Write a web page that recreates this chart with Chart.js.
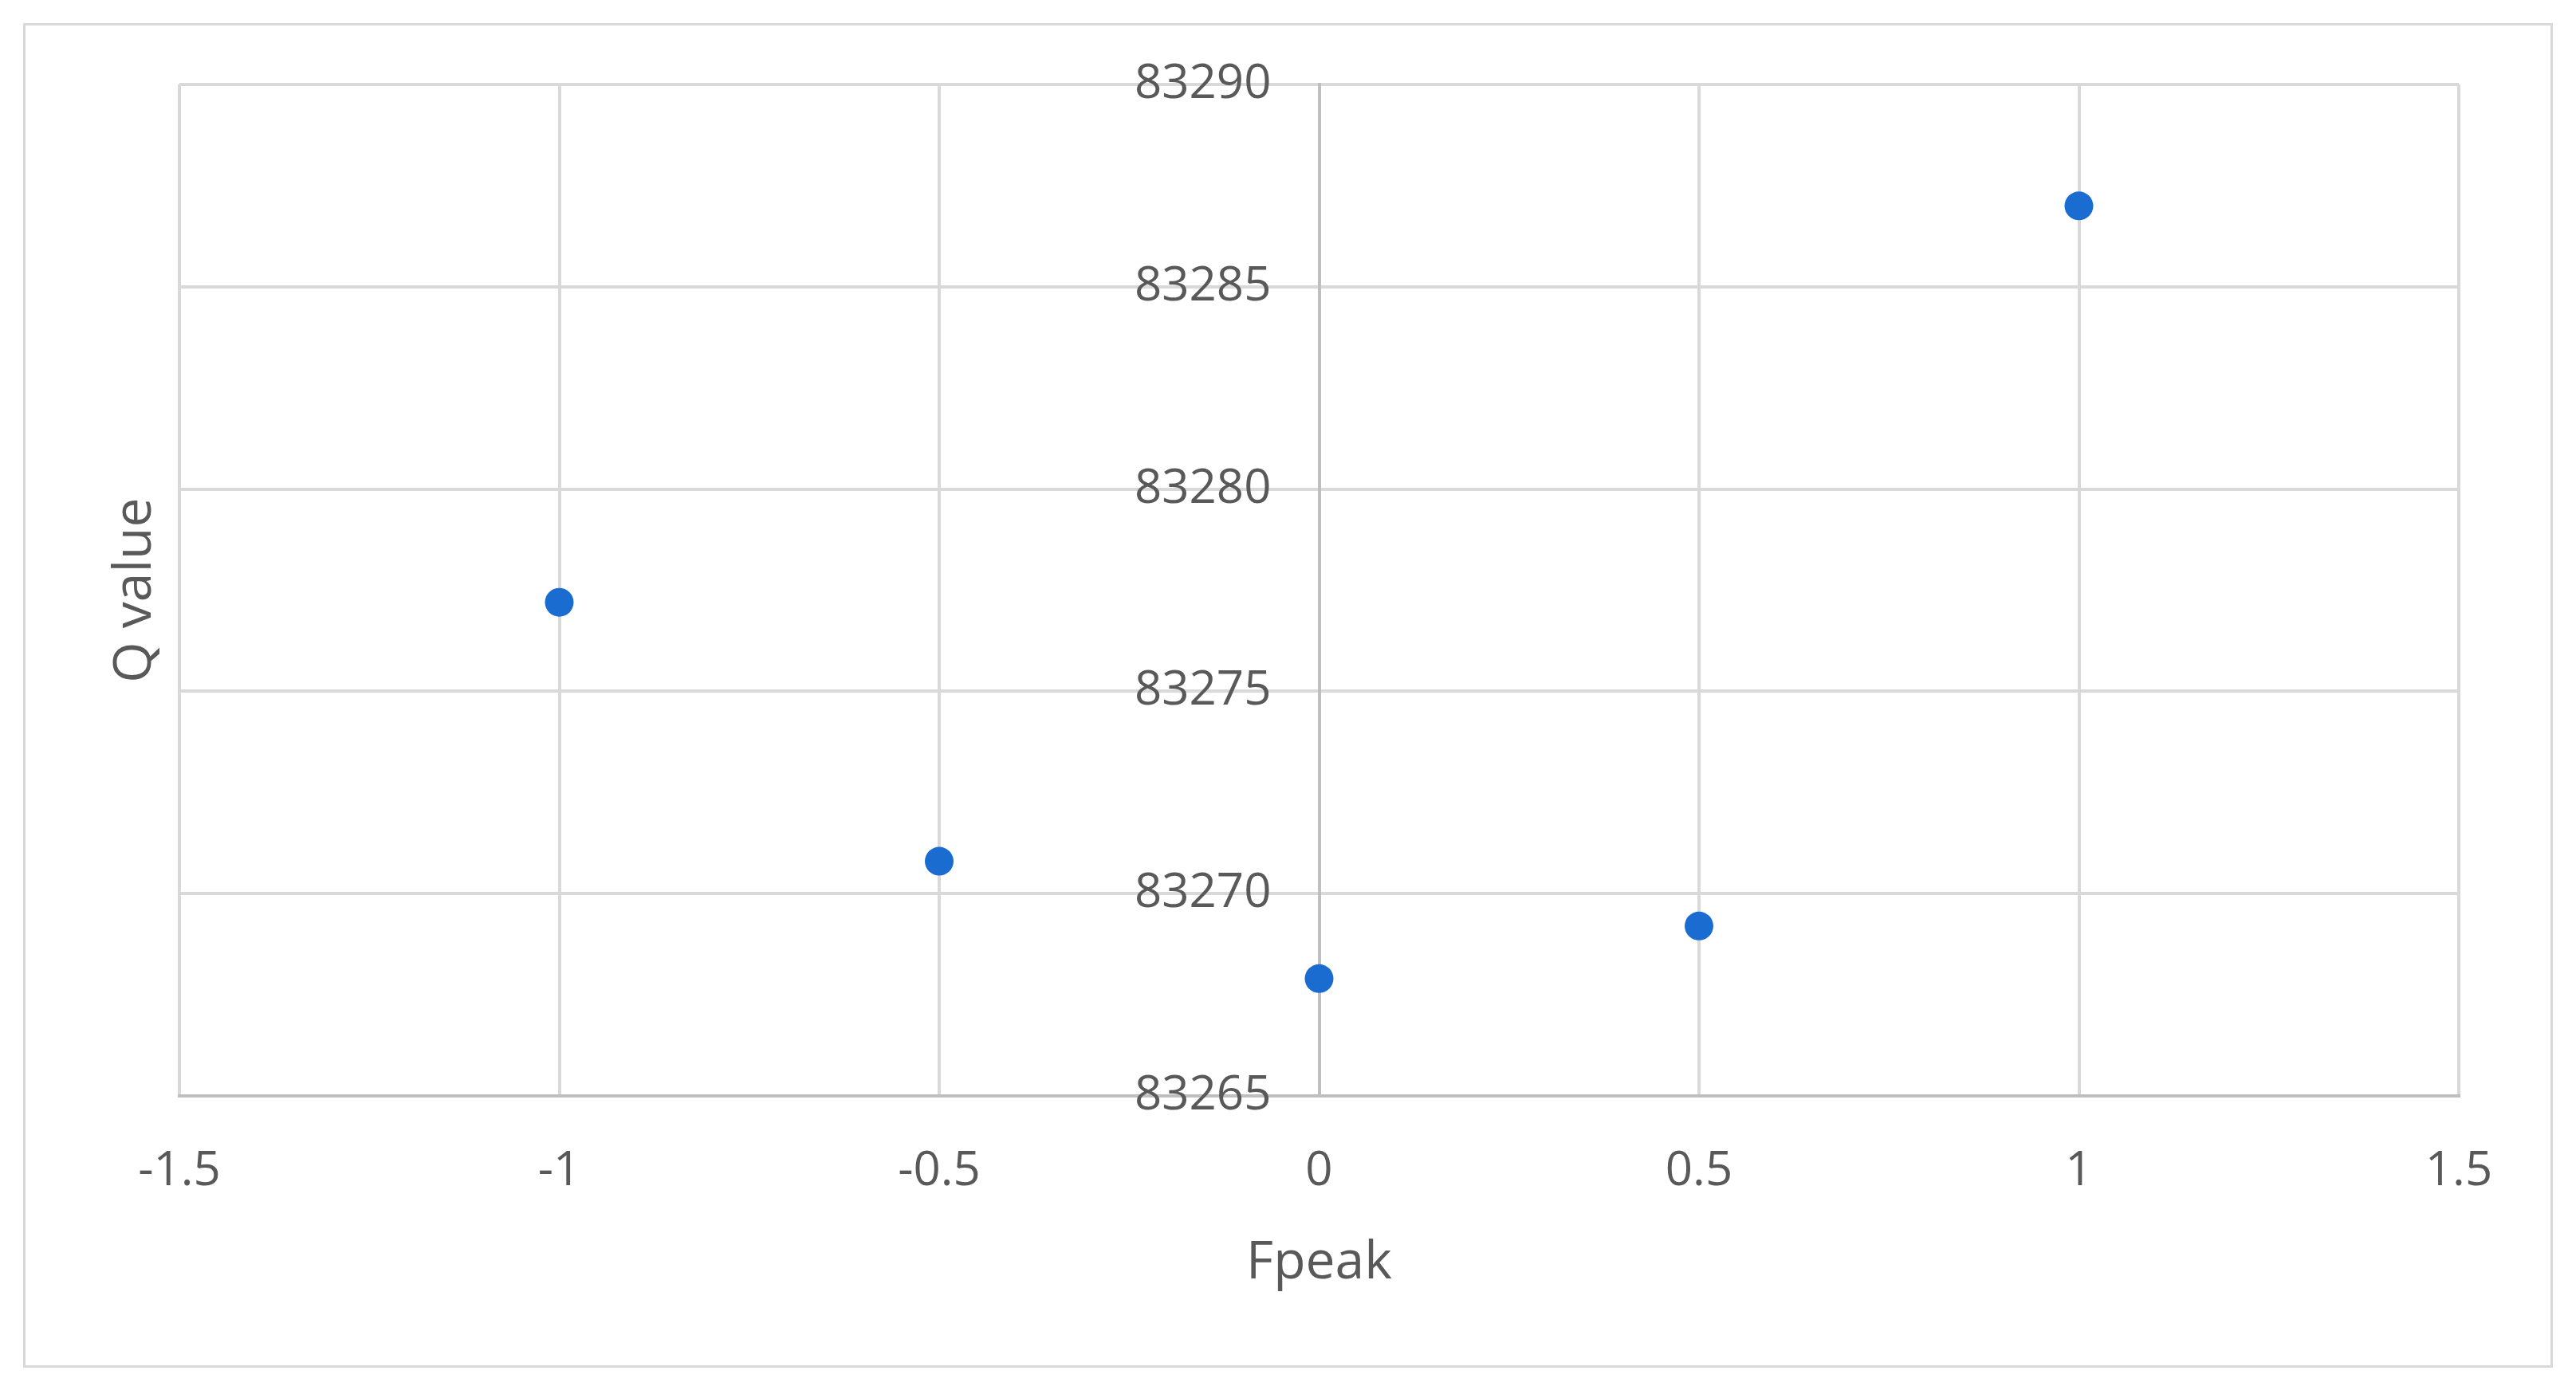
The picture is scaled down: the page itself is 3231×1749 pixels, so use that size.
<!DOCTYPE html>
<html>
<head>
<meta charset="utf-8">
<script src="https://cdn.jsdelivr.net/npm/chart.js@4.4.1/dist/chart.umd.min.js"></script>
<style>
  html, body { margin: 0; padding: 0; background: #fff; }
  #frame { position: absolute; left: 29px; top: 29px; width: 3173px; height: 1687px;
           border: 3px solid #d9d9d9; box-sizing: border-box; }
  #wrap  { position: absolute; left: 0; top: 0; width: 3231px; height: 1749px; }
</style>
</head>
<body>
<div id="frame"></div>
<div id="wrap"><canvas id="qChart"></canvas></div>
<script>
// data
const fpeak  = [-1, -0.5, 0, 0.5, 1];
const qValue = [83277.2, 83270.8, 83267.9, 83269.2, 83287.0];

const xTicks = [-1.5, -1, -0.5, 0, 0.5, 1, 1.5];
const yTicks = [83265, 83270, 83275, 83280, 83285, 83290];

const textGray = '#595959';
const gridGray = '#d9d9d9';
const axisGray = '#bfbfbf';

Chart.defaults.font.family = "'Open Sans', sans-serif";
Chart.defaults.color = textGray;

const ctx = document.getElementById('qChart').getContext('2d');
new Chart(ctx, {
    type: 'scatter',
    data: {
        datasets: [{
            data: fpeak.map((x, i) => ({ x: x, y: qValue[i] })),
            backgroundColor: '#1a6cd0',
            borderWidth: 0,
            pointRadius: 18,
            pointHoverRadius: 18
        }]
    },
    options: {
        responsive: true,
        maintainAspectRatio: false,
        animation: false,
        layout: { padding: { top: 106, right: 147, left: 0, bottom: 0 } },
        plugins: { legend: { display: false }, tooltip: { enabled: false } },
        scales: {
            x: {
                type: 'linear',
                position: 'bottom',
                min: xTicks[0],
                max: xTicks[xTicks.length - 1],
                afterBuildTicks: s => { s.ticks = xTicks.map(v => ({ value: v })); },
                afterFit: s => { s.height = 374; },
                grid: {
                    color: c => (c.tick && c.tick.value === 0) ? axisGray : gridGray,
                    lineWidth: 4,
                    drawTicks: false
                },
                border: { display: true, color: axisGray, width: 4 },
                ticks: { padding: 59, font: { size: 60 }, callback: v => String(v) },
                title: { display: true, text: 'Fpeak', font: { size: 66 }, padding: { top: 0, bottom: 124 } }
            },
            // value axis crossing at Fpeak = 0: grid + axis line
            y: {
                type: 'linear',
                position: { x: 0 },
                min: yTicks[0],
                max: yTicks[yTicks.length - 1],
                afterBuildTicks: s => { s.ticks = yTicks.map(v => ({ value: v })); },
                grid: {
                    color: c => (c.tick && c.tick.value === yTicks[0]) ? axisGray : gridGray,
                    lineWidth: 4,
                    drawTicks: false
                },
                border: { display: true, color: axisGray, width: 4 },
                ticks: { display: false }
            },
            // its labels, set a little left of the axis line
            yLabels: {
                type: 'linear',
                axis: 'y',
                position: { x: -0.063 },
                min: yTicks[0],
                max: yTicks[yTicks.length - 1],
                afterBuildTicks: s => { s.ticks = yTicks.map(v => ({ value: v })); },
                grid: { display: false },
                border: { display: false },
                ticks: { font: { size: 60 }, callback: v => String(v) }
            },
            // left axis only carries the title
            yTitle: {
                type: 'linear',
                axis: 'y',
                position: 'left',
                min: yTicks[0],
                max: yTicks[yTicks.length - 1],
                afterFit: s => { s.width = 225; },
                grid: { display: false },
                border: { display: false },
                ticks: { display: false },
                title: { display: true, text: 'Q value', font: { size: 66 }, padding: { top: 131, bottom: 0 } }
            }
        }
    }
});
</script>
</body>
</html>
